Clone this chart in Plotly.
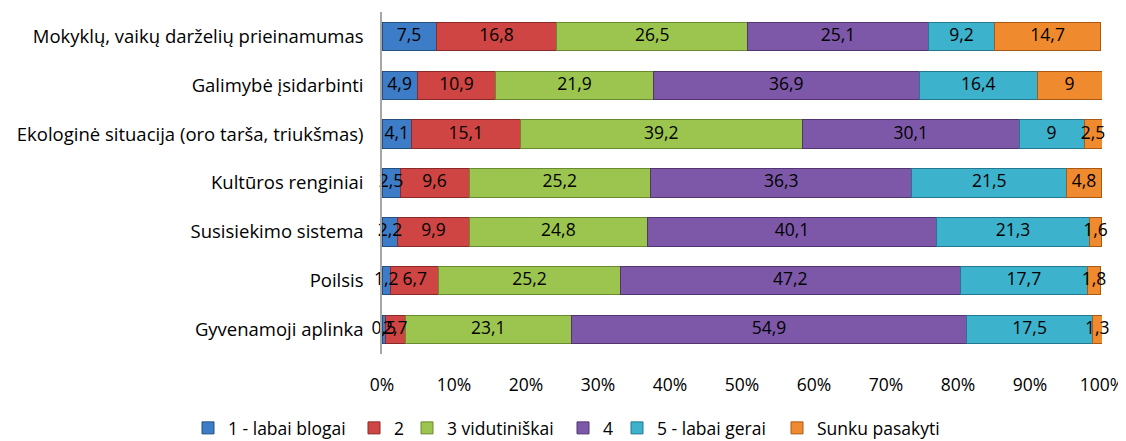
import plotly.graph_objects as go

categories = [
    "Mokyklų, vaikų darželių prieinamumas",
    "Galimybė įsidarbinti",
    "Ekologinė situacija (oro tarša, triukšmas)",
    "Kultūros renginiai",
    "Susisiekimo sistema",
    "Poilsis",
    "Gyvenamoji aplinka",
]
series_names = ["1 - labai blogai", "2", "3 vidutiniškai", "4", "5 - labai gerai", "Sunku pasakyti"]
v1 = [7.5, 4.9, 4.1, 2.5, 2.2, 1.2, 0.5]
v2 = [16.8, 10.9, 15.1, 9.6, 9.9, 6.7, 2.7]
v3 = [26.5, 21.9, 39.2, 25.2, 24.8, 25.2, 23.1]
v4 = [25.1, 36.9, 30.1, 36.3, 40.1, 47.2, 54.9]
v5 = [9.2, 16.4, 9.0, 21.5, 21.3, 17.7, 17.5]
v6 = [14.7, 9.0, 2.5, 4.8, 1.6, 1.8, 1.3]
series_values = [v1, v2, v3, v4, v5, v6]
tick_vals = [0, 10, 20, 30, 40, 50, 60, 70, 80, 90, 100]
tick_text = ["0%", "10%", "20%", "30%", "40%", "50%", "60%", "70%", "80%", "90%", "100%"]

colors = ["#3d7cc6", "#cf4543", "#9cc54f", "#7e58a8", "#3cb2cc", "#f08a2e"]
edges = ["#24507f", "#8a2a28", "#6a8a30", "#503570", "#237890", "#a85a15"]

FONT = "Open Sans, sans-serif"
FS = 17.5
W, H = 1126, 441

# legend entry text starts (px from left of figure)
legend_text_x = [220, 386, 439, 595, 649, 809]

def fmt(v):
    return ("%g" % v).replace(".", ",")

fig = go.Figure()
legend_ids = ["legend"] + ["legend%d" % (k + 2) for k in range(len(series_names) - 1)]
for name, vals, c, e, lid in zip(series_names, series_values, colors, edges, legend_ids):
    fig.add_trace(go.Bar(
        y=categories, x=vals, name=name, orientation="h", legend=lid,
        marker=dict(color=c, line=dict(color=e, width=1)),
    ))

# value labels drawn on top of all bars (centre of each stacked segment)
lx, ly, lt = [], [], []
for i, cat in enumerate(categories):
    start = 0.0
    for vals in series_values:
        v = vals[i]
        lx.append(start + v / 2)
        ly.append(cat)
        lt.append(fmt(v))
        start += v
fig.add_trace(go.Scatter(
    x=lx, y=ly, text=lt, mode="text", showlegend=False, hoverinfo="skip",
    textfont=dict(color="black", size=FS, family=FONT), cliponaxis=False,
))

legend_layouts = {}
for lid, tx in zip(legend_ids, legend_text_x):
    legend_layouts[lid] = dict(
        orientation="h", xref="container", x=(tx - 40) / W, xanchor="left",
        yref="container", y=1 - 420 / H, yanchor="middle",
        font=dict(size=FS, family=FONT), itemwidth=30, bgcolor="rgba(0,0,0,0)",
    )

fig.update_layout(
    barmode="stack", bargap=0.42,
    width=W, height=H,
    margin=dict(l=374, r=32, t=4, b=95, autoexpand=False),
    paper_bgcolor="white", plot_bgcolor="white",
    font=dict(family=FONT, size=FS, color="black"),
    showlegend=True,
    **legend_layouts,
)
fig.update_xaxes(range=[0, 100], tickvals=tick_vals, ticktext=tick_text, showgrid=False,
                 zeroline=False, showline=False, ticklabelstandoff=18, automargin=False,
                 tickfont=dict(size=FS, family=FONT))
fig.update_yaxes(autorange="reversed", showgrid=False, showline=True, linecolor="#a6a6a6",
                 linewidth=1.5, ticklabelstandoff=13, automargin=False,
                 tickfont=dict(size=18.5, family=FONT))

fig.write_html("out.html")
